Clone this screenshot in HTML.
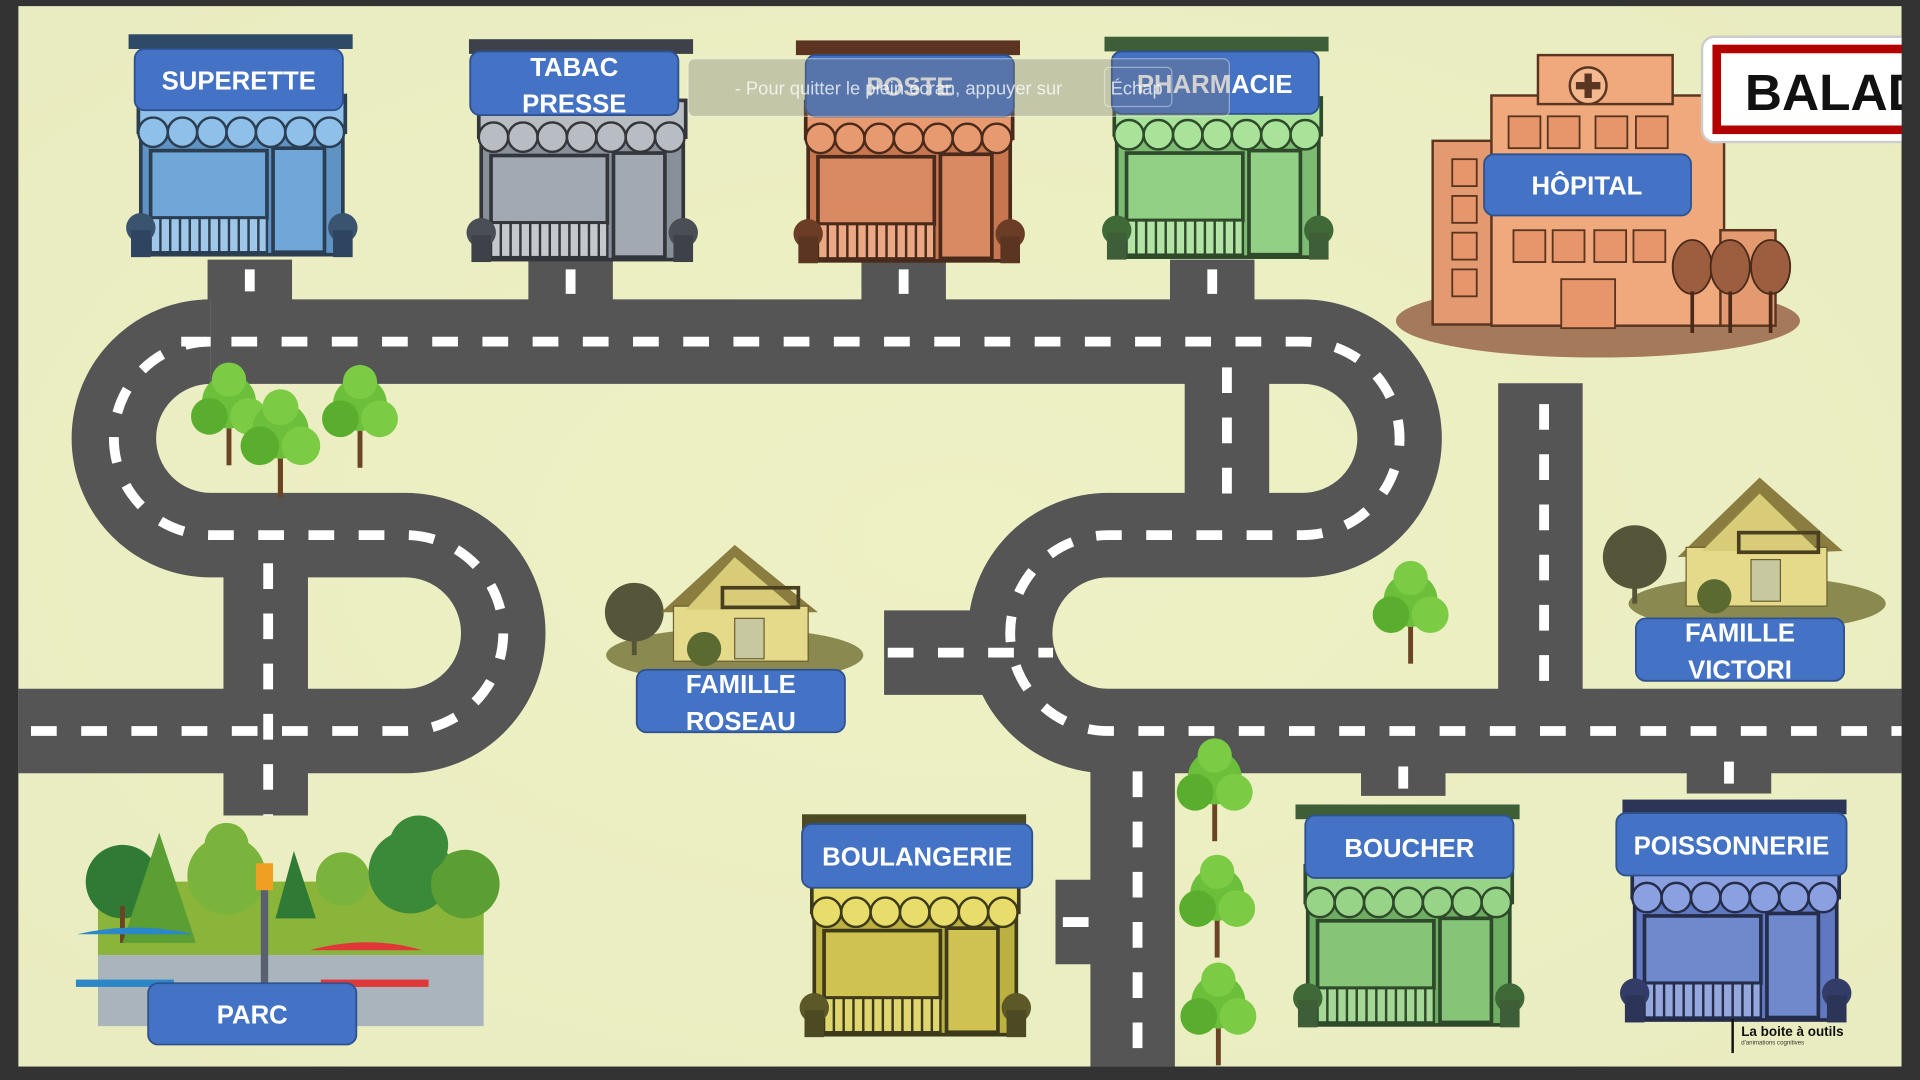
<!DOCTYPE html>
<html><head><meta charset="utf-8"><style>
html,body{margin:0;padding:0;width:1920px;height:1080px;overflow:hidden;background:#333}
svg{display:block}
text{font-family:"Liberation Sans",sans-serif;font-weight:bold}
</style></head><body>
<svg width="1920" height="1080" viewBox="0 0 1568 882" xmlns="http://www.w3.org/2000/svg">
<defs>
<radialGradient id="bg" cx="50%" cy="50%" r="70%"><stop offset="0" stop-color="#eef1c4"/><stop offset="1" stop-color="#e9ecc0"/></radialGradient>
<g id="tree">
<rect x="-2" y="0" width="4" height="42" fill="#6b4423"/>
<circle cx="0" cy="-10" r="22" fill="#6cbf3a"/><circle cx="-16" cy="2" r="15" fill="#5aae2e"/><circle cx="16" cy="2" r="15" fill="#7ccb45"/><circle cx="0" cy="-28" r="14" fill="#7ccb45"/>
</g>
<g id="scal">
<circle cx="20" cy="80" r="12"/><circle cx="44" cy="80" r="12"/><circle cx="68" cy="80" r="12"/><circle cx="92" cy="80" r="12"/><circle cx="116" cy="80" r="12"/><circle cx="140" cy="80" r="12"/><circle cx="164" cy="80" r="12"/>
</g>
</defs>
<rect x="0" y="0" width="1568" height="882" fill="#333"/>
<rect x="15" y="5" width="1538" height="866" fill="url(#bg)"/>

<!-- ROADS -->
<g fill="none" stroke="#555" stroke-width="69">
<path d="M204 245 V212 M466 245 V212 M738 245 V212 M990 245 V212"/>
<path d="M172 279 H1064 A79 79 0 0 1 1064 437 H905 A80 80 0 0 0 905 597 H1553"/>
<path d="M172 279 A79 79 0 0 0 172 437 H331 A80 80 0 0 1 331 597 H15"/>
<path d="M217 437 V666"/>
<path d="M1002 279 V437"/>
<path d="M1258 313 V597"/>
<path d="M925 597 V871"/>
<path d="M722 533 H840"/>
<path d="M862 753 H925"/>
<path d="M1146 597 V650 M1412 597 V648"/>
</g>
<g fill="none" stroke="#fff" stroke-width="8" stroke-dasharray="21 20">
<path d="M148 279 H1064 A79 79 0 0 1 1064 437 H905 A80 80 0 0 0 905 597 H1553"/>
<path d="M172 279 A79 79 0 0 0 172 437 H331 A80 80 0 0 1 331 597 H15"/>
<path d="M219 460 V666"/>
<path d="M1002 300 V410"/>
<path d="M1261 330 V570"/>
<path d="M929 630 V871"/>
<path d="M725 533 H860"/>
<path d="M868 753 H895"/>
<path d="M204 238 V220 M466 240 V220 M738 240 V220 M990 240 V220 M1146 644 V626 M1412 640 V622"/>
</g>

<g id="shops">
<g transform="translate(105,28)">
<rect x="0" y="0" width="183" height="12" fill="#2e4a66"/>
<rect x="10" y="55" width="165" height="125" fill="#5e93c4" stroke="#2b3e52" stroke-width="3"/>
<rect x="8" y="50" width="169" height="30" fill="#8ec0ea" stroke="#2b3e52" stroke-width="3"/>
<use href="#scal" fill="#8ec0ea" stroke="#2b3e52" stroke-width="2"/>
<rect x="18" y="95" width="95" height="55" fill="#6ea7d8" stroke="#2b3e52" stroke-width="3"/>
<rect x="118" y="93" width="42" height="85" fill="#6ea7d8" stroke="#2b3e52" stroke-width="3"/>
<rect x="18" y="150" width="95" height="28" fill="#9fc7ea" stroke="#2b3e52" stroke-width="2"/>
<path d="M26 150v28M34 150v28M42 150v28M50 150v28M58 150v28M66 150v28M74 150v28M82 150v28M90 150v28M98 150v28M106 150v28" stroke="#2b3e52" stroke-width="2"/>
<circle cx="10" cy="158" r="12" fill="#3a5470"/><circle cx="175" cy="158" r="12" fill="#3a5470"/>
<rect x="2" y="160" width="16" height="22" fill="#2e4460"/><rect x="167" y="160" width="16" height="22" fill="#2e4460"/>
</g>
<g transform="translate(383,32)">
<rect x="0" y="0" width="183" height="12" fill="#3e4248"/>
<rect x="10" y="55" width="165" height="125" fill="#8a9099" stroke="#33363b" stroke-width="3"/>
<rect x="8" y="50" width="169" height="30" fill="#b8bdc4" stroke="#33363b" stroke-width="3"/>
<use href="#scal" fill="#b8bdc4" stroke="#33363b" stroke-width="2"/>
<rect x="18" y="95" width="95" height="55" fill="#a3a9b2" stroke="#33363b" stroke-width="3"/>
<rect x="118" y="93" width="42" height="85" fill="#a3a9b2" stroke="#33363b" stroke-width="3"/>
<rect x="18" y="150" width="95" height="28" fill="#c5c9ce" stroke="#33363b" stroke-width="2"/>
<path d="M26 150v28M34 150v28M42 150v28M50 150v28M58 150v28M66 150v28M74 150v28M82 150v28M90 150v28M98 150v28M106 150v28" stroke="#33363b" stroke-width="2"/>
<circle cx="10" cy="158" r="12" fill="#4a4e55"/><circle cx="175" cy="158" r="12" fill="#4a4e55"/>
<rect x="2" y="160" width="16" height="22" fill="#3e4248"/><rect x="167" y="160" width="16" height="22" fill="#3e4248"/>
</g>
<g transform="translate(650,33)">
<rect x="0" y="0" width="183" height="12" fill="#5c3522"/>
<rect x="10" y="55" width="165" height="125" fill="#c7764f" stroke="#4a2a1a" stroke-width="3"/>
<rect x="8" y="50" width="169" height="30" fill="#e79a70" stroke="#4a2a1a" stroke-width="3"/>
<use href="#scal" fill="#e79a70" stroke="#4a2a1a" stroke-width="2"/>
<rect x="18" y="95" width="95" height="55" fill="#d98a63" stroke="#4a2a1a" stroke-width="3"/>
<rect x="118" y="93" width="42" height="85" fill="#d98a63" stroke="#4a2a1a" stroke-width="3"/>
<rect x="18" y="150" width="95" height="28" fill="#eaa884" stroke="#4a2a1a" stroke-width="2"/>
<path d="M26 150v28M34 150v28M42 150v28M50 150v28M58 150v28M66 150v28M74 150v28M82 150v28M90 150v28M98 150v28M106 150v28" stroke="#4a2a1a" stroke-width="2"/>
<circle cx="10" cy="158" r="12" fill="#6b3d26"/><circle cx="175" cy="158" r="12" fill="#6b3d26"/>
<rect x="2" y="160" width="16" height="22" fill="#5c3522"/><rect x="167" y="160" width="16" height="22" fill="#5c3522"/>
</g>
<g transform="translate(902,30)">
<rect x="0" y="0" width="183" height="12" fill="#3d5e36"/>
<rect x="10" y="55" width="165" height="125" fill="#7dbb73" stroke="#2e4a2a" stroke-width="3"/>
<rect x="8" y="50" width="169" height="30" fill="#a9e39a" stroke="#2e4a2a" stroke-width="3"/>
<use href="#scal" fill="#a9e39a" stroke="#2e4a2a" stroke-width="2"/>
<rect x="18" y="95" width="95" height="55" fill="#92d086" stroke="#2e4a2a" stroke-width="3"/>
<rect x="118" y="93" width="42" height="85" fill="#92d086" stroke="#2e4a2a" stroke-width="3"/>
<rect x="18" y="150" width="95" height="28" fill="#b3e4a5" stroke="#2e4a2a" stroke-width="2"/>
<path d="M26 150v28M34 150v28M42 150v28M50 150v28M58 150v28M66 150v28M74 150v28M82 150v28M90 150v28M98 150v28M106 150v28" stroke="#2e4a2a" stroke-width="2"/>
<circle cx="10" cy="158" r="12" fill="#3f6a38"/><circle cx="175" cy="158" r="12" fill="#3f6a38"/>
<rect x="2" y="160" width="16" height="22" fill="#3d5e36"/><rect x="167" y="160" width="16" height="22" fill="#3d5e36"/>
</g>
<g transform="translate(655,665)">
<rect x="0" y="0" width="183" height="12" fill="#4c4a22"/>
<rect x="10" y="55" width="165" height="125" fill="#bcb040" stroke="#3c3a1a" stroke-width="3"/>
<rect x="8" y="50" width="169" height="30" fill="#e8dc6a" stroke="#3c3a1a" stroke-width="3"/>
<use href="#scal" fill="#e8dc6a" stroke="#3c3a1a" stroke-width="2"/>
<rect x="18" y="95" width="95" height="55" fill="#cfc250" stroke="#3c3a1a" stroke-width="3"/>
<rect x="118" y="93" width="42" height="85" fill="#cfc250" stroke="#3c3a1a" stroke-width="3"/>
<rect x="18" y="150" width="95" height="28" fill="#e0d670" stroke="#3c3a1a" stroke-width="2"/>
<path d="M26 150v28M34 150v28M42 150v28M50 150v28M58 150v28M66 150v28M74 150v28M82 150v28M90 150v28M98 150v28M106 150v28" stroke="#3c3a1a" stroke-width="2"/>
<circle cx="10" cy="158" r="12" fill="#5c5828"/><circle cx="175" cy="158" r="12" fill="#5c5828"/>
<rect x="2" y="160" width="16" height="22" fill="#4c4a22"/><rect x="167" y="160" width="16" height="22" fill="#4c4a22"/>
</g>
<g transform="translate(1058,657)">
<rect x="0" y="0" width="183" height="12" fill="#3d5e36"/>
<rect x="10" y="55" width="165" height="125" fill="#6eae62" stroke="#2e4a2a" stroke-width="3"/>
<rect x="8" y="50" width="169" height="30" fill="#98d488" stroke="#2e4a2a" stroke-width="3"/>
<use href="#scal" fill="#98d488" stroke="#2e4a2a" stroke-width="2"/>
<rect x="18" y="95" width="95" height="55" fill="#86c478" stroke="#2e4a2a" stroke-width="3"/>
<rect x="118" y="93" width="42" height="85" fill="#86c478" stroke="#2e4a2a" stroke-width="3"/>
<rect x="18" y="150" width="95" height="28" fill="#a5d896" stroke="#2e4a2a" stroke-width="2"/>
<path d="M26 150v28M34 150v28M42 150v28M50 150v28M58 150v28M66 150v28M74 150v28M82 150v28M90 150v28M98 150v28M106 150v28" stroke="#2e4a2a" stroke-width="2"/>
<circle cx="10" cy="158" r="12" fill="#3f6a38"/><circle cx="175" cy="158" r="12" fill="#3f6a38"/>
<rect x="2" y="160" width="16" height="22" fill="#3d5e36"/><rect x="167" y="160" width="16" height="22" fill="#3d5e36"/>
</g>
<g transform="translate(1325,653)">
<rect x="0" y="0" width="183" height="12" fill="#2c3558"/>
<rect x="10" y="55" width="165" height="125" fill="#5f78c0" stroke="#252d4a" stroke-width="3"/>
<rect x="8" y="50" width="169" height="30" fill="#8aa0e0" stroke="#252d4a" stroke-width="3"/>
<use href="#scal" fill="#8aa0e0" stroke="#252d4a" stroke-width="2"/>
<rect x="18" y="95" width="95" height="55" fill="#7088cc" stroke="#252d4a" stroke-width="3"/>
<rect x="118" y="93" width="42" height="85" fill="#7088cc" stroke="#252d4a" stroke-width="3"/>
<rect x="18" y="150" width="95" height="28" fill="#95a8dd" stroke="#252d4a" stroke-width="2"/>
<path d="M26 150v28M34 150v28M42 150v28M50 150v28M58 150v28M66 150v28M74 150v28M82 150v28M90 150v28M98 150v28M106 150v28" stroke="#252d4a" stroke-width="2"/>
<circle cx="10" cy="158" r="12" fill="#323c66"/><circle cx="175" cy="158" r="12" fill="#323c66"/>
<rect x="2" y="160" width="16" height="22" fill="#2c3558"/><rect x="167" y="160" width="16" height="22" fill="#2c3558"/>
</g>
</g>

<!-- HOSPITAL -->
<g>
<ellipse cx="1305" cy="262" rx="165" ry="30" fill="#a57a5a"/>
<rect x="1170" y="115" width="50" height="150" fill="#e39a70" stroke="#5a3520" stroke-width="2"/>
<rect x="1218" y="78" width="190" height="188" fill="#f0a97c" stroke="#5a3520" stroke-width="2"/>
<rect x="1256" y="45" width="110" height="40" fill="#f0a97c" stroke="#5a3520" stroke-width="2"/>
<circle cx="1297" cy="70" r="15" fill="#f4b88e" stroke="#5a3520" stroke-width="2"/>
<path d="M1297 60v20M1287 70h20" stroke="#5a3520" stroke-width="6"/>
<rect x="1405" y="188" width="45" height="78" fill="#e39a70" stroke="#5a3520" stroke-width="2"/>
<g fill="#e7956a" stroke="#5a3520" stroke-width="1.5">
<rect x="1232" y="95" width="26" height="26"/><rect x="1264" y="95" width="26" height="26"/><rect x="1303" y="95" width="26" height="26"/><rect x="1336" y="95" width="26" height="26"/>
<rect x="1236" y="188" width="26" height="26"/><rect x="1268" y="188" width="26" height="26"/><rect x="1302" y="188" width="26" height="26"/><rect x="1334" y="188" width="26" height="26"/>
<rect x="1186" y="130" width="20" height="22"/><rect x="1186" y="160" width="20" height="22"/><rect x="1186" y="190" width="20" height="22"/><rect x="1186" y="220" width="20" height="22"/>
<rect x="1275" y="228" width="44" height="40"/>
</g>
<g fill="#9c5e3e" stroke="#4a2a1a" stroke-width="1.5">
<ellipse cx="1382" cy="218" rx="16" ry="22"/><ellipse cx="1413" cy="218" rx="16" ry="22"/><ellipse cx="1446" cy="218" rx="16" ry="22"/>
</g>
<path d="M1382 238v34M1413 238v34M1446 238v34" stroke="#4a2a1a" stroke-width="3"/>
</g>

<!-- BALADE sign -->
<rect x="1390" y="30" width="175" height="86" rx="10" fill="#fff" stroke="#ccc" stroke-width="2"/>
<rect x="1402" y="40" width="160" height="66" fill="none" stroke="#b30000" stroke-width="7"/>
<text x="1425" y="90" font-size="42" fill="#111">BALADE</text>
<rect x="1553" y="0" width="15" height="882" fill="#333"/>

<!-- HOUSES -->
<g transform="translate(490,440)">
<ellipse cx="110" cy="95" rx="105" ry="22" fill="#8a8a50"/>
<circle cx="28" cy="60" r="24" fill="#55553a"/><rect x="26" y="70" width="4" height="25" fill="#55553a"/>
<polygon points="50,60 110,5 178,60" fill="#8b7d40"/>
<rect x="60" y="55" width="110" height="45" fill="#e5d98a" stroke="#6a6030"/>
<polygon points="70,58 110,15 160,58" fill="#d8cc78"/>
<rect x="100" y="40" width="62" height="16" fill="none" stroke="#4a4020" stroke-width="3"/>
<rect x="110" y="65" width="24" height="33" fill="#c8c8a0" stroke="#6a6030"/>
<circle cx="85" cy="90" r="14" fill="#5a6a30"/>
</g>
<g transform="translate(1305,385)">
<ellipse cx="130" cy="108" rx="105" ry="22" fill="#8a8a50"/>
<circle cx="30" cy="70" r="26" fill="#55553a"/><rect x="28" y="80" width="4" height="28" fill="#55553a"/>
<polygon points="65,70 132,5 200,65" fill="#8b7d40"/>
<rect x="72" y="62" width="115" height="48" fill="#e5d98a" stroke="#6a6030"/>
<polygon points="85,65 132,18 180,65" fill="#d8cc78"/>
<rect x="115" y="50" width="65" height="16" fill="none" stroke="#4a4020" stroke-width="3"/>
<rect x="125" y="72" width="24" height="34" fill="#c8c8a0" stroke="#6a6030"/>
<circle cx="95" cy="102" r="14" fill="#5a6a30"/>
</g>

<!-- TREES -->
<use href="#tree" transform="translate(187,338)"/>
<use href="#tree" transform="translate(229,362) scale(1.05)"/>
<use href="#tree" transform="translate(294,340)"/>
<use href="#tree" transform="translate(1152,500)"/>
<use href="#tree" transform="translate(992,645)"/>
<use href="#tree" transform="translate(994,740)"/>
<use href="#tree" transform="translate(995,828)"/>

<!-- PARK -->
<g>
<rect x="80" y="720" width="315" height="60" fill="#8ab43a"/>
<rect x="80" y="780" width="315" height="58" fill="#aab4bc"/>
<circle cx="100" cy="720" r="30" fill="#2f7a35"/><rect x="98" y="740" width="4" height="30" fill="#6b4423"/>
<polygon points="100,770 130,680 160,770" fill="#5a9e34"/>
<circle cx="185" cy="715" r="32" fill="#7ab43c"/><circle cx="185" cy="690" r="18" fill="#7ab43c"/>
<polygon points="225,750 240,695 258,750" fill="#2f7a35"/>
<circle cx="280" cy="718" r="22" fill="#7ab43c"/>
<circle cx="335" cy="712" r="34" fill="#3a8a3a"/><circle cx="380" cy="722" r="28" fill="#5a9e34"/><circle cx="342" cy="690" r="24" fill="#3a8a3a"/>
<rect x="213" y="720" width="6" height="95" fill="#5a6070"/><rect x="209" y="705" width="14" height="22" fill="#f0a020"/>
<path d="M63 763 Q110 752 158 763 Z" fill="#2a88c8"/><rect x="62" y="800" width="80" height="6" fill="#2a88c8"/>
<path d="M253 776 Q300 763 345 776 Z" fill="#e03838"/><rect x="262" y="800" width="88" height="6" fill="#e03838"/>
</g>

<!-- LABELS -->
<g fill="#4472c4" stroke="#2f528f" stroke-width="1.5">
<rect x="110" y="40" width="170" height="50" rx="8"/>
<rect x="384" y="42" width="170" height="52" rx="8"/>
<rect x="658" y="45" width="170" height="50" rx="8"/>
<rect x="908" y="42" width="169" height="51" rx="8"/>
<rect x="1212" y="126" width="169" height="50" rx="8"/>
<rect x="520" y="547" width="170" height="51" rx="8"/>
<rect x="1336" y="505" width="170" height="51" rx="8"/>
<rect x="121" y="803" width="170" height="50" rx="8"/>
<rect x="655" y="673" width="188" height="52" rx="8"/>
<rect x="1066" y="666" width="170" height="51" rx="8"/>
<rect x="1320" y="664" width="188" height="51" rx="8"/>
</g>
<g fill="#fff" font-size="21" text-anchor="middle">
<text x="195" y="73">SUPERETTE</text>
<text x="469" y="62">TABAC</text><text x="469" y="92">PRESSE</text>
<text x="743" y="78">POSTE</text>
<text x="992" y="76">PHARMACIE</text>
<text x="1296" y="159">HÔPITAL</text>
<text x="605" y="566">FAMILLE</text><text x="605" y="596">ROSEAU</text>
<text x="1421" y="524">FAMILLE</text><text x="1421" y="554">VICTORI</text>
<text x="206" y="836">PARC</text>
<text x="749" y="707">BOULANGERIE</text>
<text x="1151" y="700">BOUCHER</text>
<text x="1414" y="698">POISSONNERIE</text>
</g>

<!-- overlay -->
<rect x="562" y="48" width="442" height="47" rx="5" fill="#7a7a7a" fill-opacity="0.35" stroke="#fff" stroke-opacity="0.4"/>
<text x="600" y="77" font-size="15" fill="#fff" fill-opacity="0.75" style="font-weight:normal">-  Pour quitter le plein écran, appuyer sur</text>
<rect x="902" y="55" width="55" height="32" rx="4" fill="none" stroke="#fff" stroke-opacity="0.4"/>
<text x="907" y="77" font-size="15" fill="#fff" fill-opacity="0.75" style="font-weight:normal">Échap</text>

<!-- logo -->
<text x="1422" y="846" font-size="11" fill="#111">La boite à outils</text>
<text x="1422" y="853" font-size="5" fill="#333" style="font-weight:normal">d'animations cognitives</text>
<rect x="1414" y="832" width="2" height="28" fill="#111"/>
</svg>
</body></html>
